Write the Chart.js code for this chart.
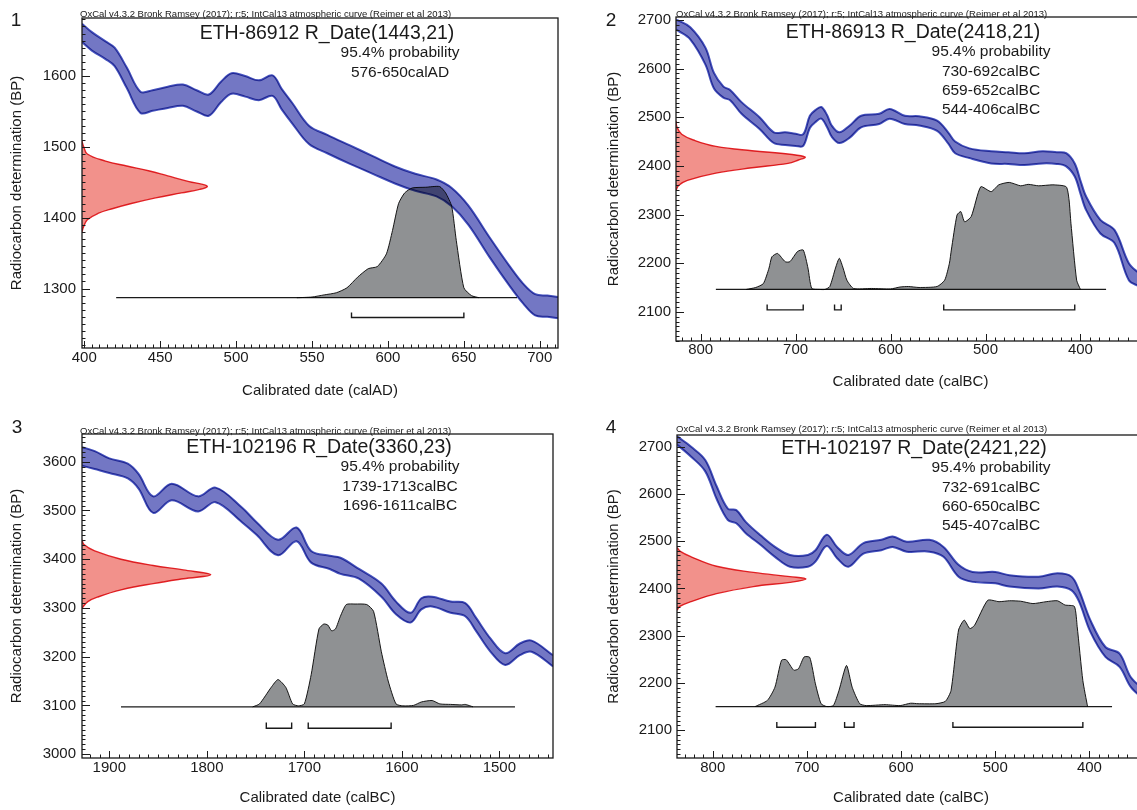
<!DOCTYPE html>
<html>
<head>
<meta charset="utf-8">
<title>OxCal calibration plots</title>
<script src="https://cdn.jsdelivr.net/npm/chart.js@4.4.1/dist/chart.umd.min.js"></script>
<style>
  html, body { margin: 0; padding: 0; background: #fff; overflow: hidden; }
  #page { position: relative; width: 1137px; height: 810px; overflow: hidden;
          font-family: "Liberation Sans", Arial, sans-serif; color: #1a1a1a; }
  canvas { position: absolute; z-index: 1; }
  .t { position: absolute; white-space: nowrap; line-height: 1; z-index: 2; }
  .c { transform: translate(-50%, -50%); }
  .l { transform: translateY(-50%); }
  .num { font-size: 19px; }
  .hdr { font-size: 9.5px; }
  .ttl { font-size: 19.5px; }
  .sub { font-size: 15.5px; }
</style>
</head>
<body>
<div id="page">
  <canvas id="c1" width="570" height="405" style="left:0;top:0"></canvas>
  <canvas id="c2" width="560" height="398" style="left:597px;top:0"></canvas>
  <canvas id="c3" width="570" height="410" style="left:0;top:400px"></canvas>
  <canvas id="c4" width="560" height="410" style="left:597px;top:400px"></canvas>
</div>
<script>
// ---- panel 1: ETH-86912 (calAD) ----
const p1Title = 'ETH-86912 R_Date(1443,21)';
const p1XTicks = [400, 450, 500, 550, 600, 650, 700];
const p1YTicks = [1300, 1400, 1500, 1600];
const p1BandX = [398.5, 405, 414, 420, 428, 437, 445, 455, 465, 474, 482, 490, 497, 506, 515, 524, 530, 537, 548, 560, 575, 590, 605, 618, 632, 642, 653, 667, 680, 689, 697, 705, 712];
const p1BandUp = [1674, 1662, 1649, 1640, 1612, 1578, 1580, 1585, 1588, 1580, 1574, 1592, 1604, 1600, 1594, 1601, 1582, 1562, 1530, 1517, 1502, 1487, 1472, 1462, 1454, 1442, 1417, 1372, 1332, 1307, 1292, 1290, 1288];
const p1BandLo = [1648, 1636, 1624, 1614, 1583, 1548, 1551, 1555, 1558, 1550, 1544, 1563, 1575, 1571, 1566, 1572, 1553, 1533, 1504, 1491, 1476, 1462, 1448, 1438, 1430, 1416, 1390, 1344, 1304, 1279, 1262, 1260, 1258];
const p1RedBP = [1380, 1387, 1397, 1406, 1413, 1420, 1428, 1435, 1440, 1444, 1447, 1451, 1459, 1466, 1473, 1480, 1490, 1501, 1508];
const p1RedX = [398.5, 399.5, 402, 409, 419, 431, 447, 464, 476, 481, 478, 469, 455, 443, 428, 414, 402, 399.5, 398.5];
const p1GrayX = [540, 550, 558, 566, 573, 580, 587, 593, 599, 603, 607, 611, 616, 625, 634, 638, 642, 645, 650, 655, 660];
const p1GrayBP = [1287, 1288, 1291, 1294, 1301, 1316, 1328, 1331, 1349, 1382, 1420, 1435, 1442, 1443, 1444, 1435, 1416, 1368, 1301, 1290, 1287];
const p1Base = [1287, 421, 685];          // BP, from, to
const p1Ranges = [[576, 650]];
const p1RangeBP = [1259, 1266];           // bracket line, tick top

// ---- panel 2: ETH-86913 (calBC) ----
const p2Title = 'ETH-86913 R_Date(2418,21)';
const p2XTicks = [800, 700, 600, 500, 400];
const p2YTicks = [2100, 2200, 2300, 2400, 2500, 2600, 2700];
const p2BandX = [826, 824, 811, 795, 786, 776, 769, 757, 738, 723, 711, 700, 692, 685, 679, 673, 667, 662, 654, 643, 631, 612, 601, 585, 570, 551, 539, 532, 517, 494, 476, 459, 440, 425, 415, 406, 400, 394, 379, 364, 349, 338, 332];
const p2BandUp = [2700, 2699, 2685, 2643, 2591, 2563, 2556, 2531, 2500, 2469, 2469, 2466, 2465, 2503, 2515, 2521, 2505, 2483, 2469, 2483, 2503, 2507, 2517, 2503, 2502, 2493, 2468, 2450, 2436, 2430, 2428, 2426, 2430, 2428, 2426, 2405, 2370, 2337, 2289, 2268, 2200, 2179, 2170];
const p2BandLo = [2680, 2678, 2660, 2608, 2559, 2540, 2535, 2507, 2476, 2447, 2443, 2441, 2441, 2478, 2490, 2497, 2480, 2460, 2447, 2458, 2479, 2486, 2497, 2486, 2483, 2472, 2445, 2426, 2416, 2405, 2404, 2402, 2405, 2404, 2399, 2378, 2343, 2309, 2261, 2241, 2165, 2152, 2143];
const p2RedBP = [2350, 2360, 2370, 2385, 2396, 2405, 2412, 2418, 2424, 2431, 2440, 2452, 2465, 2480, 2492];
const p2RedX = [826, 823, 814, 784, 746, 708, 697, 690, 706, 746, 784, 806, 820, 825, 826];
const p2GrayX = [752, 742, 734, 728, 725, 719, 711, 706, 698, 692, 687, 683, 675, 669, 664, 658, 654, 650, 646, 639, 620, 600, 590, 581, 570, 551, 543, 538, 536, 530, 526, 522, 515, 505, 494, 486, 475, 463, 455, 444, 429, 415, 412, 410, 404, 400];
const p2GrayBP = [2146, 2150, 2158, 2190, 2213, 2220, 2203, 2203, 2224, 2227, 2190, 2148, 2146, 2146, 2152, 2190, 2210, 2190, 2165, 2148, 2148, 2147, 2151, 2152, 2150, 2152, 2165, 2200, 2227, 2299, 2306, 2285, 2296, 2357, 2347, 2361, 2366, 2359, 2362, 2359, 2361, 2357, 2330, 2282, 2165, 2146];
const p2Base = [2146, 784, 373];
const p2Ranges = [[730, 692], [659, 652], [544, 406]];
const p2RangeBP = [2104, 2115];

// ---- panel 3: ETH-102196 (calBC) ----
const p3Title = 'ETH-102196 R_Date(3360,23)';
const p3XTicks = [1900, 1800, 1700, 1600, 1500];
const p3YTicks = [3000, 3100, 3200, 3300, 3400, 3500, 3600];
const p3BandX = [1928, 1915, 1900, 1881, 1870, 1855, 1836, 1809, 1791, 1764, 1749, 1727, 1708, 1693, 1674, 1663, 1644, 1621, 1606, 1591, 1580, 1569, 1550, 1535, 1524, 1509, 1494, 1479, 1467, 1445];
const p3BandUp = [3630, 3622, 3607, 3596, 3575, 3529, 3555, 3529, 3547, 3506, 3476, 3440, 3465, 3417, 3407, 3403, 3380, 3350, 3313, 3290, 3320, 3323, 3313, 3310, 3280, 3237, 3207, 3227, 3233, 3203];
const p3BandLo = [3592, 3585, 3577, 3566, 3545, 3495, 3521, 3498, 3517, 3476, 3450, 3408, 3437, 3393, 3380, 3370, 3360, 3323, 3287, 3270, 3297, 3303, 3290, 3283, 3253, 3210, 3183, 3203, 3210, 3180];
const p3RedBP = [3300, 3313, 3323, 3337, 3350, 3360, 3368, 3378, 3387, 3400, 3417, 3430, 3440];
const p3RedX = [1928, 1922, 1911, 1888, 1855, 1824, 1796, 1824, 1855, 1888, 1915, 1926, 1928];
const p3GrayX = [1753, 1746, 1734, 1727, 1719, 1712, 1706, 1700, 1693, 1685, 1680, 1676, 1672, 1668, 1663, 1657, 1648, 1636, 1629, 1621, 1614, 1606, 1599, 1588, 1580, 1569, 1561, 1550, 1539, 1535, 1527];
const p3GrayBP = [3097, 3103, 3137, 3153, 3137, 3103, 3099, 3103, 3163, 3257, 3267, 3265, 3253, 3257, 3283, 3307, 3308, 3307, 3293, 3210, 3150, 3103, 3099, 3100, 3107, 3110, 3103, 3102, 3101, 3102, 3097];
const p3Base = [3097, 1888, 1484];
const p3Ranges = [[1739, 1713], [1696, 1611]];
const p3RangeBP = [3053, 3065];

// ---- panel 4: ETH-102197 (calBC) ----
const p4Title = 'ETH-102197 R_Date(2421,22)';
const p4XTicks = [800, 700, 600, 500, 400];
const p4YTicks = [2100, 2200, 2300, 2400, 2500, 2600, 2700];
const p4BandX = [838, 837, 823, 808, 796, 784, 775, 765, 749, 734, 718, 699, 691, 679, 668, 656, 640, 621, 609, 594, 570, 555, 539, 524, 500, 485, 454, 434, 419, 411, 399, 383, 368, 356, 341];
const p4BandUp = [2722, 2721, 2700, 2672, 2617, 2569, 2566, 2541, 2512, 2488, 2471, 2471, 2481, 2514, 2488, 2471, 2496, 2503, 2510, 2499, 2503, 2488, 2450, 2435, 2435, 2428, 2425, 2432, 2425, 2396, 2333, 2276, 2262, 2212, 2184];
const p4BandLo = [2704, 2703, 2679, 2648, 2590, 2545, 2538, 2517, 2492, 2467, 2446, 2446, 2457, 2490, 2464, 2446, 2474, 2481, 2488, 2478, 2478, 2467, 2425, 2414, 2411, 2404, 2400, 2404, 2396, 2372, 2308, 2255, 2234, 2191, 2163];
const p4RedBP = [2354, 2362, 2372, 2389, 2404, 2413, 2420, 2425, 2434, 2447, 2467, 2478, 2487];
const p4RedX = [838, 835, 823, 796, 757, 718, 701, 718, 757, 796, 823, 834, 838];
const p4GrayX = [755, 742, 734, 727, 722, 714, 709, 703, 697, 691, 685, 679, 672, 666, 658, 652, 644, 637, 617, 601, 590, 582, 563, 553, 547, 539, 533, 527, 522, 508, 496, 485, 473, 460, 446, 434, 426, 416, 413, 407, 402];
const p4GrayBP = [2150, 2163, 2191, 2248, 2249, 2227, 2230, 2255, 2254, 2198, 2156, 2150, 2152, 2184, 2237, 2191, 2156, 2152, 2154, 2152, 2157, 2156, 2156, 2161, 2184, 2312, 2333, 2315, 2322, 2375, 2372, 2374, 2373, 2368, 2372, 2374, 2365, 2362, 2319, 2205, 2150];
const p4Base = [2150, 797, 376];
const p4Ranges = [[732, 691], [660, 650], [545, 407]];
const p4RangeBP = [2106, 2117];

const HEADER = 'OxCal v4.3.2 Bronk Ramsey (2017); r:5; IntCal13 atmospheric curve (Reimer et al 2013)';
const INK = '#1a1a1a';
const FONT = '"Liberation Sans", Arial, sans-serif';

const pts = (xs, ys) => xs.map((x, i) => ({ x, y: ys[i] }));

// draw the plot contents with multiply so the curve darkens where it crosses the histogram
const multiplyPlugin = {
  id: 'multiply',
  beforeDatasetsDraw(chart) { chart.ctx.save(); chart.ctx.globalCompositeOperation = 'multiply'; },
  afterDatasetsDraw(chart) { chart.ctx.restore(); }
};

// frame plus inward tick marks
const framePlugin = {
  id: 'frame',
  afterDraw(chart, args, o) {
    const { ctx, chartArea: a, scales: { x, y } } = chart;
    ctx.save();
    ctx.strokeStyle = INK;
    ctx.lineWidth = 1;
    ctx.beginPath();
    const xLo = Math.min(x.min, x.max), xHi = Math.max(x.min, x.max);
    for (let v = Math.ceil(xLo / o.xMinor) * o.xMinor; v <= xHi; v += o.xMinor) {
      const px = Math.round(x.getPixelForValue(v)) + 0.5;
      const len = v % o.xMajor === 0 ? 7 : 3.5;
      ctx.moveTo(px, a.bottom); ctx.lineTo(px, a.bottom - len);
    }
    for (let v = Math.ceil(y.min / o.yMinor) * o.yMinor; v <= y.max; v += o.yMinor) {
      const py = Math.round(y.getPixelForValue(v)) + 0.5;
      const len = v % o.yMajor === 0 ? 8 : 3.5;
      ctx.moveTo(a.left, py); ctx.lineTo(a.left + len, py);
    }
    ctx.stroke();
    ctx.lineWidth = 1.3;
    ctx.strokeRect(a.left, a.top, a.right - a.left, a.bottom - a.top);
    ctx.restore();
  }
};

function makePanel(id, p) {
  const line = { borderWidth: 1, pointRadius: 0, tension: 0, fill: false };
  const datasets = [
    { ...line, data: pts(p.bandX, p.bandUp), borderColor: '#4653bf', borderWidth: 2, tension: 0.35 },
    { ...line, data: pts(p.bandX, p.bandLo), borderColor: '#4653bf', borderWidth: 2, tension: 0.35,
      fill: '-1', backgroundColor: '#7377c4' },
    { ...line, data: pts(p.redX, p.redBP), borderColor: '#e5262b', borderWidth: 1.4, tension: 0.4,
      fill: 'shape', backgroundColor: '#f2918b' },
    { ...line, data: pts(p.grayX, p.grayBP), borderColor: INK, borderWidth: 1, tension: 0.2,
      fill: 'shape', backgroundColor: '#8f9193' },
    { ...line, data: [{ x: p.base[1], y: p.base[0] }, { x: p.base[2], y: p.base[0] }],
      borderColor: INK, borderWidth: 1.2 }
  ];
  p.ranges.forEach(([a, b]) => datasets.push({
    ...line, borderColor: INK, borderWidth: 1.4,
    data: [{ x: a, y: p.rangeBP[1] }, { x: a, y: p.rangeBP[0] }, { x: b, y: p.rangeBP[0] }, { x: b, y: p.rangeBP[1] }]
  }));

  const tickFont = { family: FONT, size: 15 };
  return new Chart(document.getElementById(id), {
    type: 'line',
    data: { datasets },
    options: {
      responsive: false,
      animation: false,
      layout: { padding: { left: 0, top: p.padTop, right: p.padRight, bottom: 0 } },
      scales: {
        x: {
          type: 'linear', min: p.xMin, max: p.xMax, reverse: p.reverse,
          afterFit: s => { s.height = p.xH; },
          afterBuildTicks: s => { s.ticks = p.xTicks.map(v => ({ value: v })); },
          ticks: { color: INK, font: tickFont, padding: p.xPad, maxRotation: 0, autoSkip: false, callback: v => String(v) },
          grid: { display: false, drawTicks: false },
          border: { display: false },
          title: { display: true, text: p.xTitle, color: INK, font: tickFont, padding: { top: 0, bottom: p.xTitlePad } }
        },
        y: {
          type: 'linear', min: p.yMin, max: p.yMax,
          afterFit: s => { s.width = p.yW; },
          afterBuildTicks: s => { s.ticks = p.yTicks.map(v => ({ value: v })); },
          ticks: { color: INK, font: tickFont, padding: p.yPad, autoSkip: false, callback: v => String(v) },
          grid: { display: false, drawTicks: false },
          border: { display: false },
          title: { display: true, text: 'Radiocarbon determination (BP)', color: INK, font: tickFont, padding: { top: 8, bottom: 0 } }
        }
      },
      plugins: {
        legend: { display: false },
        tooltip: { enabled: false },
        frame: { xMinor: p.xMinor, xMajor: p.xMajor, yMinor: 10, yMajor: 100 }
      }
    },
    plugins: [multiplyPlugin, framePlugin]
  });
}

// text overlays (kept as real HTML text)
function addText(cls, x, y, text) {
  const d = document.createElement('div');
  d.className = 't ' + cls;
  d.style.left = x + 'px';
  d.style.top = y + 'px';
  d.textContent = text;
  document.getElementById('page').appendChild(d);
}
function addLabels(num, nx, ny, hx, hy, title, tx, ty, sx, ranges, unit) {
  addText('c num', nx, ny, num);
  addText('l hdr', hx, hy, HEADER);
  addText('c ttl', tx, ty, title);
  addText('c sub', sx, ty + 19, '95.4% probability');
  ranges.forEach(([a, b], i) => addText('c sub', sx, ty + 39 + i * 19, a + '-' + b + unit));
}

makePanel('c1', {
  bandX: p1BandX, bandUp: p1BandUp, bandLo: p1BandLo, redX: p1RedX, redBP: p1RedBP,
  grayX: p1GrayX, grayBP: p1GrayBP, base: p1Base, ranges: p1Ranges, rangeBP: p1RangeBP,
  xTicks: p1XTicks, yTicks: p1YTicks, xMin: 398.5, xMax: 712, reverse: false, yMin: 1216, yMax: 1682,
  xMinor: 5, xMajor: 50, xTitle: 'Calibrated date (calAD)',
  padTop: 18, padRight: 12, yW: 82, xH: 57, xPad: 1, xTitlePad: 5, yPad: 6
});
makePanel('c2', {
  bandX: p2BandX, bandUp: p2BandUp, bandLo: p2BandLo, redX: p2RedX, redBP: p2RedBP,
  grayX: p2GrayX, grayBP: p2GrayBP, base: p2Base, ranges: p2Ranges, rangeBP: p2RangeBP,
  xTicks: p2XTicks, yTicks: p2YTicks, xMin: 332, xMax: 826, reverse: true, yMin: 2040, yMax: 2706,
  xMinor: 10, xMajor: 100, xTitle: 'Calibrated date (calBC)',
  padTop: 17, padRight: 12, yW: 79, xH: 57, xPad: 0, xTitlePad: 7, yPad: 5
});
makePanel('c3', {
  bandX: p3BandX, bandUp: p3BandUp, bandLo: p3BandLo, redX: p3RedX, redBP: p3RedBP,
  grayX: p3GrayX, grayBP: p3GrayBP, base: p3Base, ranges: p3Ranges, rangeBP: p3RangeBP,
  xTicks: p3XTicks, yTicks: p3YTicks, xMin: 1445, xMax: 1928, reverse: true, yMin: 2992, yMax: 3657,
  xMinor: 10, xMajor: 100, xTitle: 'Calibrated date (calBC)',
  padTop: 34, padRight: 17, yW: 82, xH: 52, xPad: 1, xTitlePad: 3, yPad: 6
});
makePanel('c4', {
  bandX: p4BandX, bandUp: p4BandUp, bandLo: p4BandLo, redX: p4RedX, redBP: p4RedBP,
  grayX: p4GrayX, grayBP: p4GrayBP, base: p4Base, ranges: p4Ranges, rangeBP: p4RangeBP,
  xTicks: p4XTicks, yTicks: p4YTicks, xMin: 341, xMax: 838, reverse: true, yMin: 2041, yMax: 2725,
  xMinor: 10, xMajor: 100, xTitle: 'Calibrated date (calBC)',
  padTop: 35, padRight: 12, yW: 80, xH: 52, xPad: 1, xTitlePad: 3, yPad: 5
});

addLabels('1', 16, 19, 80, 13.5, p1Title, 327, 33, 400, p1Ranges, 'calAD');
addLabels('2', 611, 19, 676, 13.5, p2Title, 913, 32, 991, p2Ranges, 'calBC');
addLabels('3', 17, 426, 80, 431, p3Title, 319, 447, 400, p3Ranges, 'calBC');
addLabels('4', 611, 426, 676, 429, p4Title, 914, 448, 991, p4Ranges, 'calBC');
</script>
</body>
</html>
